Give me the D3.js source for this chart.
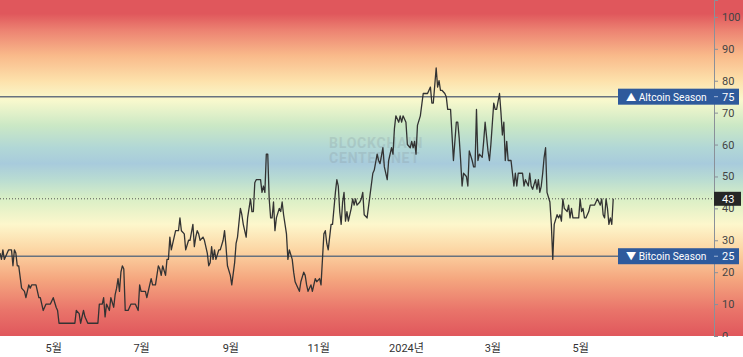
<!DOCTYPE html>
<html>
<head>
<meta charset="utf-8">
<script src="https://cdn.jsdelivr.net/npm/d3@7.9.0/dist/d3.min.js"></script>
<style>
  body { margin: 0; background: #fff; }
  svg text { font-family: Roboto, "Noto Sans CJK KR", sans-serif; }
</style>
</head>
<body>
<svg id="chart" width="743" height="357"></svg>
<script>
// altcoin season index (one point per reading, not daily)
const dates = [
  "2023-03-25","2023-03-26","2023-03-27","2023-03-28","2023-03-30","2023-03-31","2023-04-02","2023-04-03","2023-04-04","2023-04-05",
  "2023-04-06","2023-04-07","2023-04-09","2023-04-11","2023-04-12","2023-04-14","2023-04-15","2023-04-16","2023-04-19","2023-04-21",
  "2023-04-22","2023-04-24","2023-04-26","2023-04-29","2023-05-01","2023-05-03","2023-05-04","2023-05-05","2023-05-16","2023-05-17",
  "2023-05-19","2023-05-20","2023-05-22","2023-05-23","2023-05-25","2023-06-01","2023-06-02","2023-06-04","2023-06-05","2023-06-06",
  "2023-06-07","2023-06-09","2023-06-10","2023-06-12","2023-06-13","2023-06-14","2023-06-15","2023-06-16","2023-06-17","2023-06-18",
  "2023-06-19","2023-06-20","2023-06-22","2023-06-24","2023-06-27","2023-06-29","2023-06-30","2023-07-01","2023-07-04","2023-07-05",
  "2023-07-07","2023-07-08","2023-07-09","2023-07-11","2023-07-13","2023-07-14","2023-07-15","2023-07-16","2023-07-18","2023-07-19",
  "2023-07-20","2023-07-21","2023-07-22","2023-07-23","2023-07-25","2023-07-27","2023-07-28","2023-07-29","2023-07-31","2023-08-01",
  "2023-08-03","2023-08-04","2023-08-06","2023-08-07","2023-08-08","2023-08-09","2023-08-10","2023-08-11","2023-08-13","2023-08-14",
  "2023-08-16","2023-08-17","2023-08-18","2023-08-19","2023-08-20","2023-08-21","2023-08-22","2023-08-24","2023-08-25","2023-08-27",
  "2023-08-28","2023-08-29","2023-08-30","2023-09-01","2023-09-02","2023-09-04","2023-09-05","2023-09-06","2023-09-08","2023-09-09",
  "2023-09-10","2023-09-12","2023-09-13","2023-09-15","2023-09-16","2023-09-17","2023-09-18","2023-09-19","2023-09-22","2023-09-23",
  "2023-09-24","2023-09-25","2023-09-26","2023-09-27","2023-09-28","2023-09-29","2023-09-30","2023-10-01","2023-10-02","2023-10-03",
  "2023-10-05","2023-10-06","2023-10-07","2023-10-08","2023-10-10","2023-10-11","2023-10-12","2023-10-14","2023-10-15","2023-10-16",
  "2023-10-17","2023-10-19","2023-10-20","2023-10-22","2023-10-23","2023-10-24","2023-10-25","2023-10-27","2023-10-28","2023-10-30",
  "2023-10-31","2023-11-02","2023-11-03","2023-11-05","2023-11-06","2023-11-07","2023-11-08","2023-11-10","2023-11-11","2023-11-12",
  "2023-11-13","2023-11-14","2023-11-15","2023-11-16","2023-11-17","2023-11-18","2023-11-19","2023-11-20","2023-11-21","2023-11-22",
  "2023-11-24","2023-11-25","2023-11-26","2023-11-27","2023-11-28","2023-11-30","2023-12-01","2023-12-02","2023-12-03","2023-12-05",
  "2023-12-07","2023-12-09","2023-12-10","2023-12-12","2023-12-13","2023-12-14","2023-12-16","2023-12-17","2023-12-19","2023-12-20",
  "2023-12-22","2023-12-23","2023-12-24","2023-12-25","2023-12-27","2023-12-28","2023-12-29","2023-12-30","2024-01-01","2024-01-02",
  "2024-01-04","2024-01-05","2024-01-06","2024-01-07","2024-01-08","2024-01-09","2024-01-11","2024-01-13","2024-01-14","2024-01-16",
  "2024-01-18","2024-01-19","2024-01-20","2024-01-22","2024-01-23","2024-01-24","2024-01-25","2024-01-26","2024-01-28","2024-01-29",
  "2024-01-30","2024-02-01","2024-02-02","2024-02-03","2024-02-05","2024-02-06","2024-02-07","2024-02-08","2024-02-09","2024-02-10",
  "2024-02-12","2024-02-13","2024-02-14","2024-02-16","2024-02-17","2024-02-18","2024-02-19","2024-02-20","2024-02-21","2024-02-23",
  "2024-02-24","2024-02-25","2024-02-27","2024-02-28","2024-02-29","2024-03-02","2024-03-03","2024-03-04","2024-03-06","2024-03-07",
  "2024-03-08","2024-03-09","2024-03-10","2024-03-11","2024-03-12","2024-03-14","2024-03-15","2024-03-16","2024-03-17","2024-03-18",
  "2024-03-19","2024-03-22","2024-03-23","2024-03-24","2024-03-26","2024-03-27","2024-03-28","2024-03-29","2024-03-31","2024-04-01",
  "2024-04-02","2024-04-03","2024-04-04","2024-04-05","2024-04-06","2024-04-07","2024-04-08","2024-04-10","2024-04-11","2024-04-12",
  "2024-04-13","2024-04-15","2024-04-16","2024-04-17","2024-04-18","2024-04-19","2024-04-20","2024-04-22","2024-04-23","2024-04-24",
  "2024-04-25","2024-04-26","2024-04-27","2024-04-30","2024-05-01","2024-05-02","2024-05-03","2024-05-04","2024-05-05","2024-05-07",
  "2024-05-08","2024-05-10","2024-05-11","2024-05-12","2024-05-13","2024-05-15","2024-05-16","2024-05-17","2024-05-18","2024-05-19",
  "2024-05-20","2024-05-21","2024-05-22","2024-05-23","2024-05-24"
];
const values = [
  26,24,27,24,26,27,27,22,27,26,
  22,22,15,14,12,16,15,16,16,12,
  12,8,10,10,12,9,8,4,4,8,
  7,4,8,6,4,4,10,10,12,6,
  10,8,12,9,13,15,18,14,20,22,
  21,8,8,10,10,8,16,14,14,12,
  16,18,16,16,22,21,19,22,19,24,
  24,31,27,29,33,33,37,33,32,27,
  30,30,35,28,31,33,32,30,31,30,
  26,22,23,28,24,27,24,27,27,30,
  33,28,22,19,16,23,29,31,40,38,
  35,31,37,43,39,39,48,49,49,45,
  47,45,57,57,43,37,37,42,33,37,
  40,39,42,38,32,24,27,24,20,17,
  16,14,17,20,19,16,14,16,14,18,
  17,18,16,32,33,29,27,35,35,40,
  45,49,47,39,35,42,45,36,39,36,
  40,43,41,43,41,42,43,45,38,37,
  44,51,52,57,55,54,59,53,49,55,
  59,57,65,69,67,69,67,69,67,60,
  59,61,59,61,57,66,69,76,76,76,
  78,73,73,84,78,80,77,77,76,75,
  71,71,63,55,67,67,62,55,47,51,
  50,47,58,55,53,53,71,55,57,56,
  61,67,58,55,60,73,71,71,76,70,
  63,67,55,61,55,55,51,47,51,47,
  51,51,47,49,47,51,47,46,49,46,
  49,45,47,51,56,59,45,42,35,24,
  35,38,37,38,36,43,40,39,41,37,
  40,37,37,37,43,39,40,37,37,39,
  41,41,41,42,43,41,43,38,37,43,
  40,35,37,35,43
];
const monthTicks = ["2023-05-01","2023-07-01","2023-09-01","2023-11-01","2024-01-01","2024-03-01","2024-05-01"];
const yTicks = [0,10,20,30,40,50,60,70,80,90,100];
const thresholds = [
  { value: 75, label: "▲ Altcoin Season" },
  { value: 25, label: "▼ Bitcoin Season" }
];

const W = 743, plotW = 714, plotH = 336;
const parse = d3.timeParse("%Y-%m-%d");
const data = dates.map((d, i) => ({ date: parse(d), value: values[i] }));

const svg = d3.select("#chart");

const x = d3.scaleTime()
  .domain([parse("2023-03-25"), parse("2024-08-02")])
  .range([0, plotW]);
const y = d3.scaleLinear().domain([0, 105.3]).range([plotH, 0]);

// background colour bands (red - yellow - green - blue - green - yellow - red)
const stops = [
  [0, "#e0575c"], [8, "#e9746a"], [18, "#f5a77f"], [27, "#fcd6a4"], [35, "#fdf7cc"],
  [43, "#d9efc6"], [49, "#b9dcd2"], [54, "#a8cbdc"], [59, "#b1d7d6"], [66, "#cbe8c5"],
  [74, "#f9f9cd"], [80, "#fde1ab"], [88, "#f9b98a"], [96, "#ec8171"], [101, "#e0575c"]
];
const defs = svg.append("defs");
const grad = defs.append("linearGradient")
  .attr("id", "bands")
  .attr("gradientUnits", "userSpaceOnUse")
  .attr("x1", 0).attr("x2", 0).attr("y1", 0).attr("y2", plotH);
stops.slice().reverse().forEach(([v, c]) => {
  grad.append("stop").attr("offset", y(v) / plotH).attr("stop-color", c);
});
defs.append("clipPath").attr("id", "plotclip")
  .append("rect").attr("width", W).attr("height", plotH + 1);

svg.append("rect")
  .attr("width", W).attr("height", plotH)
  .attr("fill", "url(#bands)");

// watermark
const wm = svg.append("g")
  .attr("fill", "#7d8b94").attr("opacity", 0.22)
  .attr("font-size", 14).attr("font-weight", 700)
  .attr("letter-spacing", 0.8);
wm.append("text").attr("x", 329).attr("y", 148).text("BLOCKCHAIN");
wm.append("text").attr("x", 329).attr("y", 163).text("CENTER.NET");

// threshold lines
svg.selectAll(".thr")
  .data(thresholds)
  .join("line")
  .attr("x1", 0).attr("x2", 618)
  .attr("y1", d => y(d.value)).attr("y2", d => y(d.value))
  .attr("stroke", "#68727f").attr("stroke-width", 1.5);

// last value dotted line
const last = data[data.length - 1];
svg.append("line")
  .attr("x1", 0).attr("x2", plotW)
  .attr("y1", y(last.value)).attr("y2", y(last.value))
  .attr("stroke", "#555").attr("stroke-width", 1)
  .attr("stroke-dasharray", "1,2");

// index line
svg.append("path")
  .datum(data)
  .attr("fill", "none")
  .attr("stroke", "#333")
  .attr("stroke-width", 1.3)
  .attr("stroke-linejoin", "round")
  .attr("d", d3.line().x(d => x(d.date)).y(d => y(d.value)));

// right axis
const yAxis = svg.append("g")
  .attr("transform", `translate(${plotW},0)`)
  .attr("clip-path", "url(#plotclip)")
  .call(d3.axisRight(y).tickValues(yTicks).tickSize(4).tickPadding(4));
yAxis.select(".domain").attr("stroke", "#8a9099");
yAxis.selectAll(".tick line").attr("stroke", "#8a9099");
yAxis.selectAll(".tick text").attr("fill", "#444").attr("font-size", 11);

// threshold labels
thresholds.forEach(t => {
  const g = svg.append("g").attr("transform", `translate(618,${y(t.value)})`);
  g.append("rect").attr("x", 0).attr("y", -8).attr("width", 121).attr("height", 16)
    .attr("fill", "#2e5a9c");
  g.append("text").attr("x", 8).attr("y", 4).attr("fill", "#fff")
    .attr("font-size", 10.2).text(t.label);
  g.append("line").attr("x1", 96).attr("x2", 100).attr("y1", 0).attr("y2", 0)
    .attr("stroke", "#9fb3d6");
  g.append("text").attr("x", 104).attr("y", 4).attr("fill", "#fff")
    .attr("font-size", 11).text(t.value);
});

// current value tag
const tag = svg.append("g").attr("transform", `translate(${plotW},${y(last.value)})`);
tag.append("rect").attr("x", 0).attr("y", -7).attr("width", 27).attr("height", 14)
  .attr("fill", "#262626");
tag.append("text").attr("x", 8).attr("y", 4).attr("fill", "#fff")
  .attr("font-size", 11).text(last.value);

// bottom axis
const fmt = d => d.getMonth() === 0 ? d.getFullYear() + "년" : (d.getMonth() + 1) + "월";
const xAxis = svg.append("g")
  .attr("transform", `translate(0,${plotH})`)
  .call(d3.axisBottom(x).tickValues(monthTicks.map(parse)).tickFormat(fmt).tickSize(0).tickPadding(8));
xAxis.select(".domain").remove();
xAxis.selectAll(".tick text").attr("fill", "#333").attr("font-size", 11);
</script>
</body>
</html>
